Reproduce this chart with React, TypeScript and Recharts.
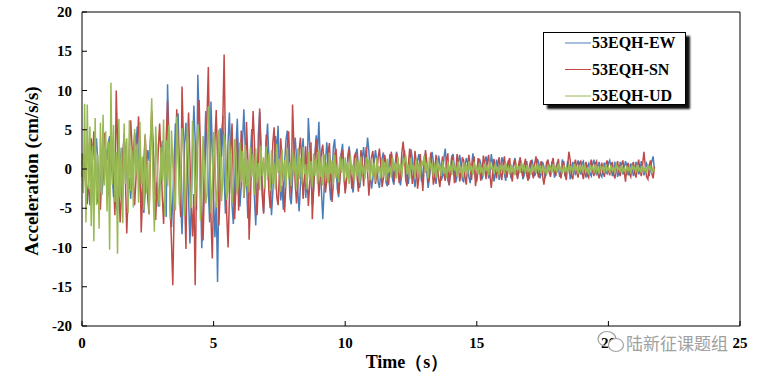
import { LineChart, Line, XAxis, YAxis, ReferenceLine } from "recharts";

// sample step of the record (s)
const DT = 0.05;

const ew = [
  0.5, 1.8, 0.6, -1.9, -3.4, -2.0, -4.6, -1.2, 1.5, 3.1, 1.8, 3.9, 0.7, -1.6, -0.4, -3.3, -1.5, 0.9, 2.6, 1.1,
  3.4, 4.2, 1.3, -0.9, -3.6, -2.1, -4.9, -5.3, -2.0, 0.8, 2.7, 1.4, 4.1, 2.2, -0.5, -2.9, -1.2, -3.8, -0.6, 1.9,
  4.6, 2.9, 5.4, 0.7, -2.2, -4.3, -1.9, -5.6, -3.0, 0.4, 2.4, 1.0, 3.8, 6.0, 2.6, -0.9, -3.4, -1.7, -4.8, -2.3,
  0.9, 3.6, 1.8, -2.4, -6.1, 10.8, 4.0, -1.5, -7.4, -3.9, 1.2, 5.8, 2.7, 7.1, 0.6, -4.2, -8.3, -2.6, 3.3, 5.9,
  1.4, -3.7, -9.5, -4.8, 2.2, 8.1, 3.6, -5.3, 12.0, 6.4, -1.8, -10.1, -6.0, 0.9, 7.4, 3.1, -2.7, -6.8, 8.6, 2.5,
  -3.9, -8.7, -4.1, -14.4, -2.3, 5.2, 1.6, 6.8, -0.9, -5.7, -2.4, 3.5, 7.2, 1.3, -4.6, -7.0, -2.1, 2.8, 6.4, 0.6,
  -4.8, -2.2, 3.6, 7.6, 2.9, -1.4, -6.3, -3.1, 1.8, 5.1, 1.0, -3.5, -7.2, -2.6, 4.4, 7.3, 2.0, -2.7, -5.5, -1.3,
  3.0, 5.8, 1.5, -2.2, -5.9, -3.0, 0.7, 4.2, 2.1, 5.5, -0.6, -4.0, -2.1, -5.2, 0.9, 3.7, 4.9, 1.1, -3.6, -4.5,
  -1.2, 2.0, 4.0, 1.4, -2.9, -5.4, -2.0, 1.6, 3.9, 0.5, -3.7, -1.4, 6.5, 3.2, -0.8, -4.6, -2.4, 1.9, 4.3, 2.2,
  6.0, 1.1, -3.1, -6.4, -2.5, 0.8, 3.4, 1.2, -1.9, -4.0, -0.9, 2.7, 3.8, 0.6, -2.5, -3.6, -1.0, 2.0, 3.2, -0.4,
  -2.8, -1.2, 1.6, 2.9, 0.9, -1.8, -3.0, -0.7, 1.9, 2.6, 0.3, -2.4, -1.1, 1.5, 2.8, 0.5, 1.8, 4.0, 2.3, -0.6,
  -2.5, -1.3, 0.9, 2.4, 1.1, -1.6, -2.4, -0.5, 1.3, 2.1, 0.4, -1.7, -2.2, 0.1, 1.9, 1.0, -1.4, -2.0, 0.6, 2.2,
  1.2, -1.0, -2.1, -0.6, 1.5, 2.4, 0.7, -1.3, -1.9, 0.3, 2.5, 1.4, -0.8, -2.3, -1.0, 1.1, 1.9, 0.2, -1.6, -0.7,
  1.3, 2.0, -0.4, -2.4, -1.2, 0.8, 2.2, 1.0, -1.1, -1.9, 0.2, 1.7, 0.6, -1.5, -0.8, 1.4, 2.6, 0.4, -1.4, -2.0,
  -0.3, 1.5, 1.9, 0.1, -1.7, -0.9, 0.8, 1.8, 0.5, -1.4, -1.6, 0.3, 1.4, 0.8, -1.0, -1.8, 0.2, 2.0, 0.9, -1.2,
  -1.6, 0.1, 1.3, 0.7, -1.3, -0.6, 0.9, 1.6, 0.2, -1.2, -0.4, 1.9, 0.8, -1.6, -0.7, 1.2, 0.5, -1.4, -0.3, 1.5,
  0.9, -0.7, -1.5, 0.3, 1.1, 0.4, -1.2, -0.6, 0.7, 1.4, 0.2, -1.0, -0.5, 1.2, 0.6, -1.3, -0.8, 0.4, 1.0, -0.9,
  -1.1, 0.6, 1.2, 0.1, -0.9, -0.4, 1.3, 0.8, -1.2, -0.5, 0.9, 0.3, -1.0, -0.6, 1.1, 0.4, -0.8, 0.9, 1.0, -1.1,
  -0.4, 0.8, 0.2, -1.0, -0.3, 1.2, 0.7, -0.9, -0.5, 1.0, 0.3, -1.3, -0.6, 0.9, 0.1, -0.8, 0.6, 1.1, -0.2, -0.7,
  0.8, 1.0, -0.5, -1.1, 0.3, 0.7, -0.6, -0.9, 0.6, 1.2, -0.1, -0.8, 0.4, 0.9, -0.7, -1.0, 0.2, 0.8, -0.4, -0.6,
  0.7, 1.1, 0.2, -0.9, -0.3, 0.8, 0.5, -1.0, -0.4, 0.9, 0.3, -0.7, 0.1, 1.0, 0.4, -0.8, -0.2, 0.7, 0.1, -0.9,
  -0.3, 0.9, 0.4, -0.7, -0.2, 1.0, 0.3, -0.8, -0.1, 0.7, 0.2, -0.9, 0.1, 1.0, 1.6, -0.2,
];

const sn = [
  -1.0, 1.9, 0.4, -2.8, -4.5, -1.6, 2.3, 3.9, 1.1, 4.8, 2.0, -1.5, -4.4, -2.3, -5.2, -0.8, 2.1, 4.6, 1.7, -2.0,
  -3.4, 0.6, 4.9, 2.4, -1.8, -5.9, 10.0, 3.6, -2.7, -6.8, -3.1, 1.4, 4.5, -1.2, -8.2, -3.5, 2.6, 6.2, 2.9, -1.5,
  -4.6, -1.3, 3.2, 6.7, 1.8, -8.1, -3.6, 1.0, 4.3, 0.9, -3.9, -5.8, 1.6, 7.4, 3.3, -2.4, -6.5, -1.9, 2.7, 5.8,
  1.5, -3.4, -7.0, -2.1, 3.9, 8.7, 2.6, -4.8, -9.4, -14.8, -5.3, 1.9, 7.6, 3.0, -2.9, -6.1, 10.5, 4.1, -3.7, -10.2,
  2.8, 7.2, 1.1, -4.6, -8.6, -3.2, -14.8, -1.7, 5.4, 8.8, 2.3, -5.1, -9.1, -2.4, 4.1, 6.7, 13.0, 1.8, -6.2, -11.4,
  -2.9, 3.6, 7.5, 1.2, -7.2, -3.0, 4.4, 6.1, 14.6, 2.7, -5.9, -10.0, -3.8, 2.4, 5.8, -1.4, -6.4, -2.2, 3.9, -5.3,
  -1.0, 4.9, 2.1, -3.7, -1.6, 6.0, 1.4, -9.0, -4.2, 2.0, 7.4, 3.5, -2.2, -5.9, -1.8, 7.7, 3.1, -3.5, -5.7, -0.9,
  4.4, 1.6, -2.9, -5.0, -1.4, 3.3, 5.3, 1.0, -3.6, -4.6, -0.7, 3.9, 1.5, -2.4, -5.5, -1.6, 2.9, 4.8, 0.6, -3.5,
  8.2, 3.0, -1.8, -4.4, -2.1, 2.4, 4.0, 0.8, -3.8, -1.2, 2.9, -0.9, -4.7, -2.0, 3.4, -6.4, -2.5, 1.4, 3.8, 0.2,
  -3.5, -1.1, 2.3, 3.1, -0.4, -3.0, -1.4, 2.0, 3.3, -1.0, -4.2, -1.8, 1.7, 2.6, -0.3, -3.2, -1.2, 1.9, 2.4, -0.8,
  -3.1, -1.4, 1.2, 2.6, 0.5, -2.5, -1.0, 1.6, 2.1, -0.9, -2.9, -0.5, 2.4, 1.0, -2.2, 0.6, 2.8, -0.4, -3.4, -1.0,
  1.5, 2.3, 0.2, -1.9, -0.8, 1.4, 2.6, 0.6, -2.3, -1.2, 1.8, 0.7, -1.6, -2.0, 0.4, 2.2, 1.1, -1.7, -0.6, 2.0,
  0.4, -1.8, -0.9, 2.0, 3.5, 1.7, -1.4, -2.2, 0.6, 2.6, 0.9, -1.9, -0.7, 2.3, 0.8, -2.5, -1.1, 1.9, -0.6, -2.8,
  0.2, 2.4, 0.9, -1.7, -0.8, 2.1, 0.4, -2.0, -1.0, 1.8, 0.5, -1.3, -2.3, 0.2, 1.6, -0.7, -1.5, 1.2, 2.0, -2.1,
  -0.6, 1.7, 0.6, -1.8, -0.5, 1.9, 0.8, -1.6, -0.4, 1.5, 1.1, -1.0, -2.0, 0.4, 1.8, 0.3, -1.4, 0.9, 1.6, -2.2,
  -0.9, 1.4, 0.3, -1.5, -0.4, 1.7, 0.6, -1.3, 1.0, 1.8, -0.8, -2.4, -0.6, 1.3, 0.2, -1.2, 0.7, 1.5, -0.5, -1.4,
  0.6, 1.6, -0.3, -1.1, 0.9, 1.4, -0.7, -1.6, 0.5, 1.2, -0.4, -1.3, 0.8, 1.5, -0.2, -1.0, 0.6, 1.3, -0.8, -1.5,
  0.4, 1.1, -0.5, -1.2, 0.7, 1.6, -0.3, -1.1, 0.4, 1.0, -0.9, -2.0, -0.6, 0.8, 1.2, -0.4, -1.0, 0.6, 1.4, -0.2,
  -0.9, 0.5, 1.3, -0.6, -1.2, 0.3, 1.0, -0.7, -1.4, 0.4, 2.2, 1.1, -0.9, -1.3, 0.6, 1.2, -0.4, -1.1, 0.8, 1.0,
  -0.5, -1.3, 0.2, 0.9, -0.8, -1.1, 0.5, 1.2, -0.3, -0.9, 0.7, 1.0, -0.6, -1.2, 0.1, 0.8, -0.5, -1.0, 0.6, 1.1,
  -0.2, -0.8, 0.5, 0.9, -0.7, -1.2, 0.3, 1.0, -0.4, -0.9, 0.6, 1.1, -0.3, -1.6, 0.2, 0.8, -0.6, -1.0, 0.4, 0.9,
  -0.5, -1.1, 0.3, 1.2, -0.2, -0.9, 0.6, 2.2, 0.4, -1.0, -1.3, 0.5, 1.1, -0.6, -1.2, 0.3,
];

const ud = [
  2.0, -3.1, 8.3, -6.8, 8.2, -2.5, 5.4, -7.3, 3.0, -9.2, 6.5, -4.6, 1.8, -7.6, 5.9, -3.3, 6.9, -2.1, 4.8, -5.4,
  3.5, -10.3, 11.0, -2.0, 5.6, -4.2, 2.1, -10.8, 6.4, -3.6, 2.7, -6.9, 5.8, -1.9, 3.9, -5.6, 6.2, -2.8, 2.4, -4.9,
  5.1, -0.8, 3.2, -4.3, 6.0, -2.0, 1.6, -5.2, 4.5, -3.1, 0.9, -5.7, 3.8, 9.0, -2.6, -8.0, 5.4, 1.3, -3.4, -4.8,
  2.8, -1.5, 6.3, -5.9, 3.7, -2.2, 5.6, -6.4, 4.9, 0.8, -3.0, -5.3, 6.7, 2.5, -4.6, -0.6, 5.2, 3.3, -6.0, -2.4,
  5.5, 1.9, -3.6, -5.0, 6.1, 2.7, -4.8, -1.1, 5.7, 3.5, -6.6, -2.9, 4.2, 0.4, -4.4, -3.2, 8.0, 3.0, -5.6, -2.3,
  4.7, 1.6, -4.9, -2.5, 5.0, 2.2, -4.1, -1.3, 4.4, 3.1, -3.9, -2.8, 3.6, 0.9, -4.3, -2.0, 3.8, 1.8, -3.2, -1.5,
  3.4, -1.7, 2.3, -3.6, 3.1, -2.2, 1.2, -3.0, 2.8, -1.0, 1.9, -3.3, 2.6, -1.8, 0.8, -2.7, 3.0, -0.9, 1.5, -2.5,
  2.9, -1.4, 2.0, -2.8, 2.4, -1.9, 0.7, -2.6, 3.2, -0.5, 1.3, -2.9, 2.5, -1.6, 1.1, -2.4, 2.7, -1.2, 0.9, -2.2,
  2.3, -0.8, 1.8, -2.5, 2.6, -1.3, 1.4, -2.0, 2.8, -0.7, 0.6, -2.6, 2.2, -1.5, 1.0, -2.3, 2.0, -0.9, 1.2, -1.9,
  2.4, -1.0, 1.6, -2.1, 1.9, -1.4, 0.8, -1.8, 2.1, -0.6, 1.1, -2.0, 1.8, -1.2, 0.7, -1.7, 1.6, -0.5, 1.3, -1.6,
  1.5, -1.1, 0.9, -1.9, 1.7, -0.8, 0.6, -1.5, 1.4, -0.9, 1.0, -1.8, 1.6, -0.7, 0.5, -1.3, 1.5, -0.4, 1.2, -1.4,
  1.3, -0.9, 0.8, -1.6, 1.4, -0.6, 0.4, -1.2, 1.2, -1.0, 0.9, -1.5, 1.3, -0.5, 0.3, -1.1, 1.5, -0.3, 0.8, -1.2,
  1.6, -0.4, 0.7, -1.0, 1.2, 0.9, 1.8, -0.7, 0.6, -1.3, 1.4, -0.2, 0.5, -1.1, 1.3, -0.6, 0.8, -1.0, 1.1, 0.4,
  1.7, -0.5, 0.8, -1.2, 1.5, 0.2, 0.6, -0.9, 0.7, -1.1, 1.2, -0.3, 0.5, -0.9, 1.0, -0.6, 0.3, -1.1, 0.9, -0.4,
  0.6, -0.8, 1.1, -0.2, 0.4, -0.9, 0.9, -0.5, 0.3, -1.0, 0.8, -0.4, 0.6, -0.7, 1.0, -0.3, 0.5, -0.8, 0.9, -0.2,
  0.4, -0.7, 0.8, -0.5, 0.2, -0.9, 0.7, -0.3, 0.5, -0.8, 0.9, -0.1, 0.4, -0.6, 0.7, -0.4, 0.3, -0.8, 0.6, -0.2,
  0.5, -0.6, 0.8, -0.3, 0.2, -0.7, 0.6, -0.4, 0.3, -0.8, 0.7, -0.2, 0.4, -0.5, 0.8, -0.1, 0.3, -0.6, 0.5, -0.4,
  0.2, -0.7, 0.6, -0.3, 0.4, -0.5, 0.7, -0.2, 0.3, -0.6, 0.5, -0.4, 0.1, -0.7, 0.6, -0.3, 0.4, -0.5, 0.6, -0.1,
  0.3, -0.5, 0.7, -0.2, 0.2, -0.6, 0.5, -0.4, 0.3, -0.6, 0.6, -0.1, 0.4, -0.5, 0.7, -0.3, 0.2, -0.6, 0.5, -0.2,
  0.3, -0.4, 0.6, -0.3, 0.1, -0.7, 0.5, -0.2, 0.4, -0.5, 0.6, -0.3, 0.2, -0.6, 0.4, -0.1, 0.3, -0.5, 0.6, -0.2,
  0.2, -0.5, 0.5, -0.3, 0.3, -0.6, 0.7, -0.1, 0.2, -0.4, 0.5, -0.3, 0.1, -0.5, 0.4, -0.2, 0.3, -0.6, 0.5, -0.1,
  0.2, -0.4, 0.6, -0.2, 0.1, -0.5, 0.4, -0.3, 0.2, -0.5, 0.5, -0.1, 0.3, -0.4, 0.2, -0.3,
];

const seriesKeys = ["ew", "sn", "ud"];
const seriesNames = ["53EQH-EW", "53EQH-SN", "53EQH-UD"];
const seriesColors = ["#4A7EBB", "#BE4B48", "#98B954"];
const xTicks = [0, 5, 10, 15, 20, 25];
const yTicks = [-20, -15, -10, -5, 0, 5, 10, 15, 20];

const n = Math.min(ew.length, sn.length, ud.length);
const data = Array.from({ length: n }, (_, i) => ({
  t: +(i * DT).toFixed(2),
  ew: ew[i],
  sn: sn[i],
  ud: ud[i],
}));

const FONT = "Liberation Serif";

const YTick = ({ x, y, payload }: any) => (
  <g>
    <line x1={x} x2={x + 5} y1={y} y2={y} stroke="#000" />
    <text x={x - 10} y={y} dy={5} textAnchor="end" fontSize={15} fontWeight="bold" style={{ fontFamily: FONT }} fill="#000">
      {payload.value}
    </text>
  </g>
);

const XTick = ({ x, y, payload }: any) => (
  <g>
    <line x1={x} x2={x} y1={y} y2={y - 5} stroke="#000" />
    <text x={x} y={y + 22} textAnchor="middle" fontSize={15} fontWeight="bold" style={{ fontFamily: FONT }} fill="#000">
      {payload.value}
    </text>
  </g>
);

export default function App() {
  return (
    <div style={{ position: "absolute", left: 0, top: 0, width: 758, height: 375, background: "#fff" }}>
      <LineChart width={758} height={375} data={data} margin={{ top: 12, right: 18, bottom: 0, left: 0 }}>
        <XAxis
          dataKey="t"
          type="number"
          domain={[0, 25]}
          ticks={xTicks}
          tick={<XTick />}
          tickLine={false}
          tickSize={0}
          tickMargin={0}
          height={49}
          axisLine={{ stroke: "#000" }}
          interval={0}
        />
        <YAxis
          type="number"
          domain={[-20, 20]}
          ticks={yTicks}
          tick={<YTick />}
          tickLine={false}
          tickSize={0}
          tickMargin={0}
          width={82}
          axisLine={{ stroke: "#000" }}
          interval={0}
        />
        <ReferenceLine y={20} stroke="#000" />
        <ReferenceLine x={25} stroke="#000" />
        {seriesKeys.map((k, i) => (
          <Line
            key={k}
            dataKey={k}
            name={seriesNames[i]}
            stroke={seriesColors[i]}
            strokeWidth={1.5}
            strokeLinejoin="miter"
            dot={false}
            type="linear"
            isAnimationActive={false}
          />
        ))}
      </LineChart>

      {/* axis titles + watermark */}
      <svg style={{ position: "absolute", left: 0, top: 0 }} width={758} height={375} pointerEvents="none">
        <text
          x={0}
          y={0}
          transform="translate(38,171) rotate(-90)"
          textAnchor="middle"
          fontSize={19}
          fontWeight="bold"
          style={{ fontFamily: FONT }}
          fill="#000"
        >
          Acceleration (cm/s/s)
        </text>
        <text x={407} y={368} textAnchor="middle" fontSize={18} fontWeight="bold" style={{ fontFamily: FONT }} fill="#000">
          Time（s）
        </text>
        <g stroke="#a0a0a0" fill="none" strokeWidth={1.2}>
          <ellipse cx={607} cy={339} rx={9} ry={7.5} />
          <ellipse cx={616} cy={345} rx={7.5} ry={6.5} fill="#fff" />
        </g>
        <text x={626} y={350} fontSize={17} style={{ fontFamily: "Noto Sans CJK SC" }} fill="#a0a0a0">
          陆新征课题组
        </text>
      </svg>

      {/* legend */}
      <div
        style={{
          position: "absolute",
          left: 543,
          top: 32,
          width: 143,
          height: 73,
          border: "1px solid #000",
          background: "#fff",
          boxShadow: "4px 4px 2px #111",
          boxSizing: "border-box",
        }}
      >
        <svg width={141} height={71}>
          {seriesNames.map((name, i) => (
            <g key={name}>
              <line x1={21} x2={47} y1={10 + i * 26.5} y2={10 + i * 26.5} stroke={seriesColors[i]} strokeWidth={1} />
              <text x={48} y={15 + i * 26.5} fontSize={16} fontWeight="bold" style={{ fontFamily: FONT }} fill="#000">
                {name}
              </text>
            </g>
          ))}
        </svg>
      </div>
    </div>
  );
}
